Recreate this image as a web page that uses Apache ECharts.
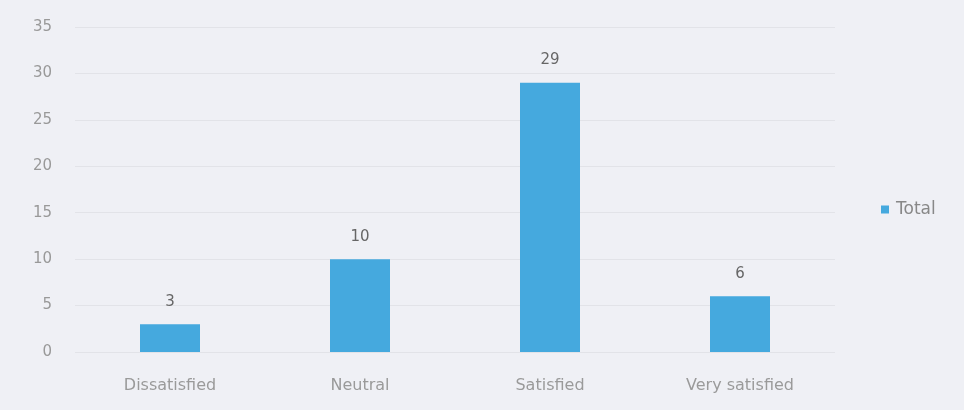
<!DOCTYPE html>
<html>
<head>
<meta charset="utf-8">
<script src="https://cdn.jsdelivr.net/npm/echarts@6/dist/echarts.min.js"></script>
<style>
  html, body { margin: 0; padding: 0; background: #eff0f5; }
  #chart { width: 964px; height: 410px; }
</style>
</head>
<body>
<div id="chart"></div>
<script>
// 分类和数值
const categories = ['Dissatisfied', 'Neutral', 'Satisfied', 'Very satisfied'];
const totals = [3, 10, 29, 6];
const yTicks = [0, 5, 10, 15, 20, 25, 30, 35];

const chart = echarts.init(document.getElementById('chart'));

const option = {
  backgroundColor: '#eff0f5',
  textStyle: { fontFamily: 'DejaVu Sans' },
  legend: {
    data: ['Total'],
    orient: 'vertical',
    left: 876,
    top: 196,
    itemWidth: 8,
    itemHeight: 8,
    itemGap: 4,
    icon: 'rect',
    textStyle: { color: '#888', fontSize: 17, padding: [0, 0, 0, 2] }
  },
  grid: {
    left: 75,
    right: 129,
    top: 27,
    bottom: 58
  },
  xAxis: {
    type: 'category',
    data: categories,
    axisLine: { show: false },
    axisTick: { show: false },
    axisLabel: { color: '#9a9a9a', fontSize: 16, margin: 26 }
  },
  yAxis: {
    type: 'value',
    min: yTicks[0],
    max: yTicks[yTicks.length - 1],
    interval: 5,
    axisLine: { show: false },
    axisTick: { show: false },
    axisLabel: { color: '#999', fontSize: 15, margin: 23 },
    splitLine: { lineStyle: { color: '#e2e3e8', width: 1 } }
  },
  series: [
    {
      name: 'Total',
      type: 'bar',
      data: totals,
      barWidth: 60,
      itemStyle: { color: '#45a9de' },
      label: {
        show: true,
        position: 'top',
        distance: 15,
        color: '#666',
        fontSize: 15
      }
    }
  ]
};

chart.setOption(option);
</script>
</body>
</html>
